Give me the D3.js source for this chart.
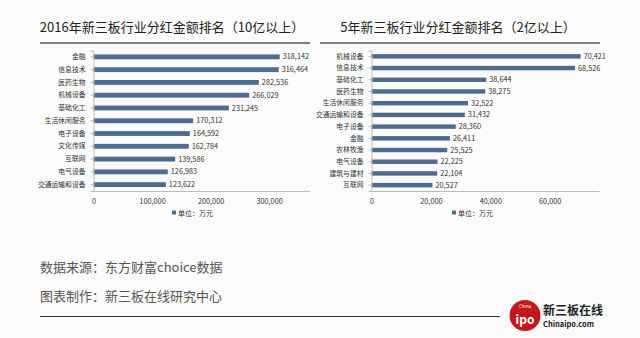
<!DOCTYPE html>
<html>
<head>
<meta charset="utf-8">
<script src="https://cdn.jsdelivr.net/npm/d3@7"></script>
<style>
  html, body { margin: 0; padding: 0; background: #fbfbfb; }
  svg { display: block; }
  text { font-family: "Noto Sans CJK SC", "Noto Sans", sans-serif; }
</style>
</head>
<body>
<svg id="chart" width="640" height="338"></svg>
<script>
// 2016 dividends by industry (10亿以上), unit: 万元
const cats2016 = ["金融", "信息技术", "医药生物", "机械设备", "基础化工", "生活休闲服务", "电子设备", "文化传媒", "互联网", "电气设备", "交通运输和设备"];
const vals2016 = [318142, 316464, 282536, 266029, 231245, 170312, 164592, 162784, 139586, 126983, 123622];
const ticks2016 = [0, 100000, 200000, 300000];

// Five-year dividends by industry (2亿以上), unit: 万元
const cats5y = ["机械设备", "信息技术", "基础化工", "医药生物", "生活休闲服务", "交通运输和设备", "电子设备", "金融", "农林牧渔", "电气设备", "建筑与建材", "互联网"];
const vals5y = [70421, 68526, 38644, 38275, 32522, 31432, 28360, 26411, 25525, 22225, 22104, 20527];
const ticks5y = [0, 20000, 40000, 60000];

const titles = ["2016年新三板行业分红金额排名（10亿以上）", "5年新三板行业分红金额排名（2亿以上）"];
const footLines = ["数据来源：东方财富choice数据", "图表制作：新三板在线研究中心"];

const svg = d3.select("#chart");
const fmt = d3.format(",");
const barColor = "#4f6b8f";

function panel(cfg) {
  const g = svg.append("g");
  // title and underline
  g.append("text")
    .attr("x", cfg.titleX).attr("y", 32)
    .attr("text-anchor", "middle")
    .attr("font-size", 13).attr("fill", "#222")
    .text(cfg.title);
  g.append("line")
    .attr("x1", cfg.ruleX0).attr("x2", cfg.ruleX1)
    .attr("y1", 43).attr("y2", 43)
    .attr("stroke", "#555").attr("stroke-width", 1.5);

  const x = d3.scaleLinear().domain([0, cfg.max]).range([cfg.x0, cfg.x1]);
  const y = d3.scaleBand().domain(cfg.cats).range([50.5, 191]).paddingInner(0.62).paddingOuter(0.31);

  // bars
  g.selectAll("rect.bar").data(cfg.vals).join("rect")
    .attr("class", "bar")
    .attr("x", x(0))
    .attr("y", (d, i) => y(cfg.cats[i]))
    .attr("width", d => x(d) - x(0))
    .attr("height", y.bandwidth())
    .attr("fill", barColor);

  // value labels
  g.selectAll("text.val").data(cfg.vals).join("text")
    .attr("class", "val")
    .attr("x", d => x(d) + 3)
    .attr("y", (d, i) => y(cfg.cats[i]) + y.bandwidth() / 2 + 2.6)
    .attr("font-size", 7.3).attr("fill", "#333")
    .text(d => fmt(d));

  // category axis
  const yAxis = d3.axisLeft(y).tickSize(3).tickPadding(5);
  const ya = g.append("g").attr("transform", `translate(${x(0)},0)`).call(yAxis);
  ya.select(".domain").attr("stroke", "#bbb");
  ya.selectAll(".tick line").attr("stroke", "#bbb");
  ya.selectAll(".tick text").attr("font-size", 6.8).attr("fill", "#333")
    .attr("font-family", "'Noto Sans CJK SC', sans-serif");

  // value axis
  const xAxis = d3.axisBottom(x).tickValues(cfg.ticks).tickFormat(fmt).tickSize(0).tickPadding(8);
  const xa = g.append("g").attr("transform", "translate(0,191)").call(xAxis);
  xa.select(".domain").attr("stroke", "#bbb");
  xa.selectAll(".tick text").attr("font-size", 7.3).attr("fill", "#333")
    .attr("font-family", "'Noto Sans', sans-serif");

  // legend
  g.append("rect").attr("x", cfg.legendX).attr("y", 210.5).attr("width", 4).attr("height", 4).attr("fill", barColor);
  g.append("text").attr("x", cfg.legendX + 6).attr("y", 215.5)
    .attr("font-size", 7).attr("fill", "#333").text("单位：万元");
}

panel({ title: titles[0], titleX: 172, ruleX0: 40, ruleX1: 310,
        cats: cats2016, vals: vals2016, ticks: ticks2016, max: 369900,
        x0: 93.5, x1: 310, legendX: 172 });
panel({ title: titles[1], titleX: 458, ruleX0: 320, ruleX1: 600,
        cats: cats5y, vals: vals5y, ticks: ticks5y, max: 76600,
        x0: 371.5, x1: 599, legendX: 452 });

// footer
svg.selectAll("text.foot").data(footLines).join("text")
  .attr("class", "foot")
  .attr("x", 40).attr("y", (d, i) => 272 + i * 29)
  .attr("font-size", 13).attr("fill", "#555")
  .text(d => d);
svg.append("line").attr("x1", 40).attr("x2", 500).attr("y1", 316.5).attr("y2", 316.5)
  .attr("stroke", "#333").attr("stroke-width", 1);

// logo
const logo = svg.append("g").attr("transform", "translate(525,315.5)");
logo.append("circle").attr("r", 15.5).attr("fill", "#c4161c");
logo.append("text").attr("y", -7.5).attr("text-anchor", "middle")
  .attr("font-size", 4.5).attr("fill", "#fff").attr("font-family", "'DejaVu Sans', sans-serif").text("China");
logo.append("text").attr("y", 8).attr("text-anchor", "middle")
  .attr("font-size", 12).attr("font-weight", "bold").attr("fill", "#fff")
  .attr("font-family", "'DejaVu Sans', sans-serif").text("ipo");
svg.append("text").attr("x", 543).attr("y", 315).attr("font-size", 12).attr("font-weight", "bold")
  .attr("fill", "#222").text("新三板在线");
svg.append("text").attr("x", 543).attr("y", 327).attr("font-size", 7.5).attr("font-weight", "bold")
  .attr("fill", "#222").attr("font-family", "'DejaVu Sans', sans-serif").text("Chinaipo.com");
</script>
</body>
</html>
